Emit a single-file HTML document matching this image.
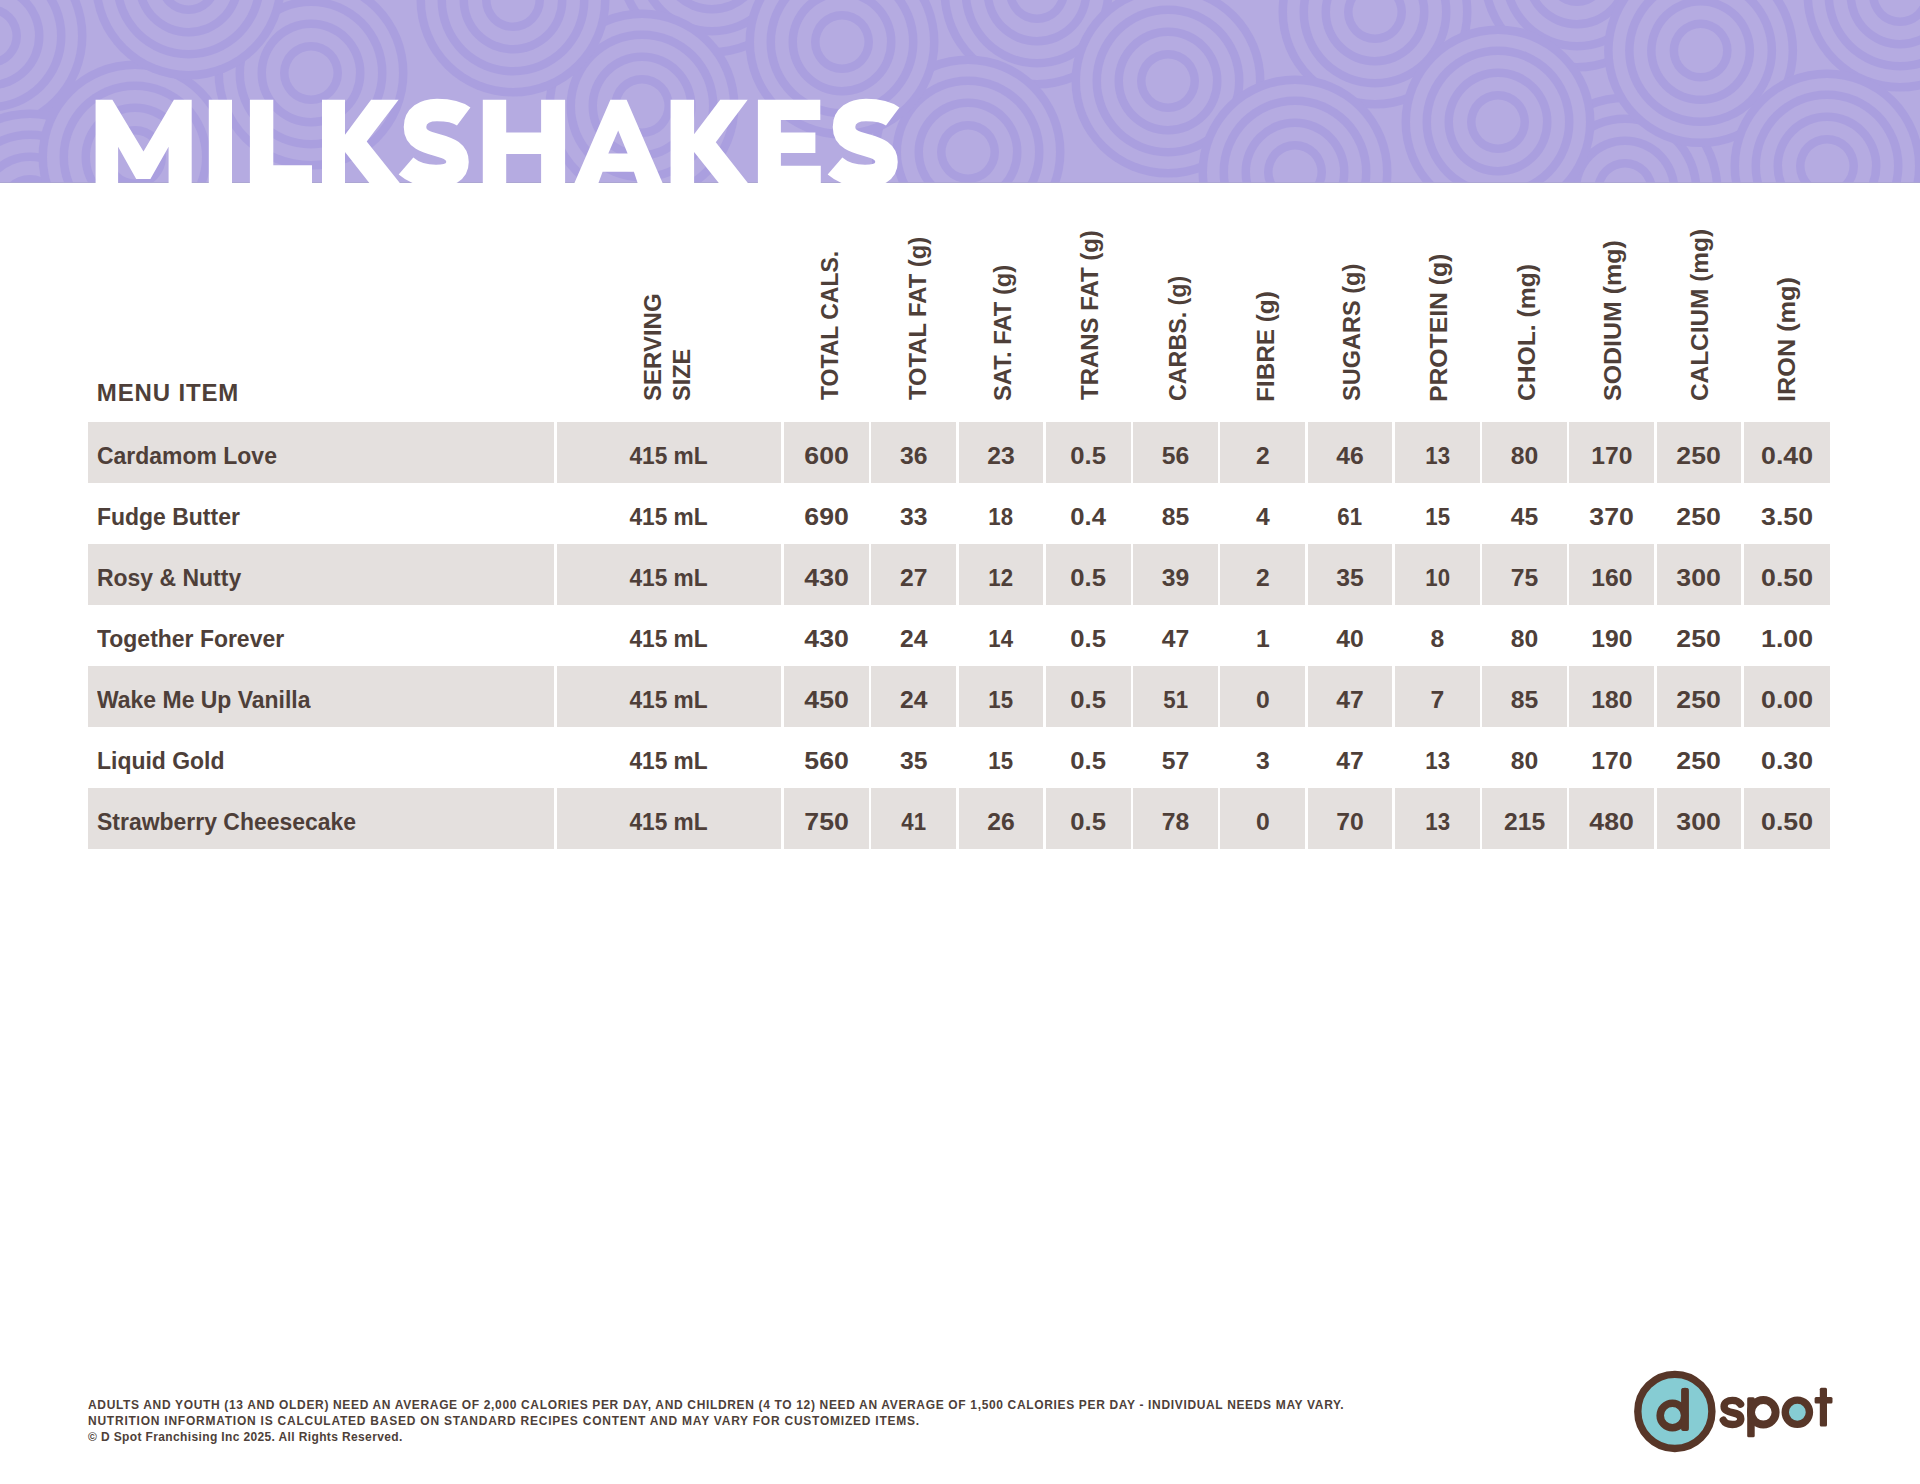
<!DOCTYPE html><html><head><meta charset="utf-8"><title>Milkshakes</title><style>
html,body{margin:0;padding:0;}
body{width:1920px;height:1484px;overflow:hidden;background:#fff;position:relative;font-family:"Liberation Sans",sans-serif;color:#4e3f39;}
.band{position:absolute;left:0;top:0;width:1920px;height:183px;background:#b5abe1;overflow:hidden;}
.band svg{position:absolute;left:0;top:0;}
.tl{position:absolute;top:85.5px;font-weight:bold;font-size:115px;line-height:115px;color:#fff;-webkit-text-stroke:7px #fff;white-space:nowrap;transform-origin:0 0;}
.c{position:absolute;height:61px;}
.g{background:#e4e0de;}
.t{position:absolute;font-weight:bold;font-size:24.7px;line-height:24.7px;white-space:nowrap;}
.n{transform:scaleX(0.93);transform-origin:0 0;}
.h{position:absolute;font-weight:bold;font-size:24px;line-height:24px;white-space:nowrap;transform-origin:0 0;}
.foot{position:absolute;left:88px;top:1397px;font-weight:bold;font-size:12px;line-height:16px;white-space:nowrap;}
</style></head><body>
<div class="band"><svg width="1920" height="183" viewBox="0 0 1920 183"><defs><g id="m"><circle r="96.5" fill="#aa9fdf"/><circle r="88.0" fill="#b5abe1"/><circle r="75.5" fill="#aa9fdf"/><circle r="67.0" fill="#b5abe1"/><circle r="53.5" fill="#aa9fdf"/><circle r="45.0" fill="#b5abe1"/><circle r="31.0" fill="#aa9fdf"/><circle r="22.5" fill="#b5abe1"/></g></defs><use href="#m" x="311" y="73"/><use href="#m" x="-10" y="36"/><use href="#m" x="30" y="206"/><use href="#m" x="135" y="157"/><use href="#m" x="188.5" y="-17"/><use href="#m" x="1037" y="-8"/><use href="#m" x="712" y="-40"/><use href="#m" x="642" y="106"/><use href="#m" x="513" y="0"/><use href="#m" x="968" y="152"/><use href="#m" x="842" y="42"/><use href="#m" x="1168" y="81"/><use href="#m" x="1375" y="12"/><use href="#m" x="1295" y="172"/><use href="#m" x="1577" y="-25"/><use href="#m" x="1625" y="190"/><use href="#m" x="1498" y="122"/><use href="#m" x="1900" y="-5"/><use href="#m" x="1700.6" y="50.6"/><use href="#m" x="1827" y="166"/></svg><div style="position:absolute;left:0;top:182px;width:1920px;height:1px;background:#aaa5d0;opacity:0.8"></div><svg style="position:absolute;left:0;top:0" width="1920" height="183"><polygon fill="#fff" points="95.6,187.0 95.6,99.8 112.4,99.8 143.5,151.4 173.9,99.8 191.7,99.8 191.7,187.0 168.6,187.0 168.6,146.8 150.4,178.9 136.2,178.9 118.1,146.8 118.1,187.0"/><polygon fill="#fff" points="208.8,187.0 208.8,99.8 232.0,99.8 232.0,187.0"/><polygon fill="#fff" points="249.9,187.0 249.9,99.8 273.3,99.8 273.3,165.3 312.0,165.3 312.0,187.0"/><polygon fill="#fff" points="322.0,187.0 322.0,99.8 345.0,99.8 345.0,134.7 371.1,99.8 398.6,99.8 366.7,141.4 403.0,187.0 372.5,187.0 345.0,152.0 345.0,187.0"/><polygon fill="#fff" points="482.8,187.0 482.8,99.8 506.2,99.8 506.2,132.6 541.1,132.6 541.1,99.8 565.1,99.8 565.1,187.0 541.1,187.0 541.1,154.0 506.2,154.0 506.2,187.0"/><polygon fill="#fff" points="670.6,187.0 670.6,99.8 694.1,99.8 694.1,134.3 720.2,99.8 747.7,99.8 715.8,142.3 751.0,187.0 722.0,187.0 694.1,152.0 694.1,187.0"/><polygon fill="#fff" points="757.9,187.0 757.9,99.8 820.3,99.8 820.3,120.1 780.9,120.1 780.9,132.5 815.4,132.5 815.4,152.9 780.9,152.9 780.9,165.7 820.8,165.7 820.8,187.0"/><path fill="#fff" fill-rule="evenodd" d="M610.4,99.8 L626.6,99.8 L664.3,187 L638.9,187 L633.9,171.7 L602.6,171.7 L597,187 L572.7,187 Z M618.2,130.5 L608.3,153.5 L627.6,153.5 Z"/><path d="M463.7,116.5 C457,111.5 448,110 437,110 C424,110 415,116 415,127 C415,139 426,142 437,145 C450,148.5 457.5,152 457.5,162 C457.5,172 449,176 436,176 C424,176 413,172 406,166" fill="none" stroke="#fff" stroke-width="22.5"/><path transform="translate(429,0)" d="M463.7,116.5 C457,111.5 448,110 437,110 C424,110 415,116 415,127 C415,139 426,142 437,145 C450,148.5 457.5,152 457.5,162 C457.5,172 449,176 436,176 C424,176 413,172 406,166" fill="none" stroke="#fff" stroke-width="22.5"/></svg></div>
<div class="t" style="left:96.8px;top:381.2px;font-size:24px;line-height:24px;letter-spacing:0.85px;">MENU ITEM</div>
<div class="h" style="left:641.0px;top:401.3px;transform:rotate(-90deg) scaleX(1.000);">SERVING</div>
<div class="h" style="left:669.9px;top:401.3px;transform:rotate(-90deg) scaleX(0.980);">SIZE</div>
<div class="h" style="left:817.8px;top:400.3px;transform:rotate(-90deg) scaleX(0.956);">TOTAL CALS.</div>
<div class="h" style="left:906.3px;top:400.3px;transform:rotate(-90deg) scaleX(0.989);">TOTAL FAT (g)</div>
<div class="h" style="left:991.3px;top:401.3px;transform:rotate(-90deg) scaleX(0.989);">SAT. FAT (g)</div>
<div class="h" style="left:1078.0px;top:400.3px;transform:rotate(-90deg) scaleX(0.998);">TRANS FAT (g)</div>
<div class="h" style="left:1166.0px;top:401.3px;transform:rotate(-90deg) scaleX(0.969);">CARBS. (g)</div>
<div class="h" style="left:1254.0px;top:402.3px;transform:rotate(-90deg) scaleX(1.014);">FIBRE (g)</div>
<div class="h" style="left:1340.0px;top:401.3px;transform:rotate(-90deg) scaleX(0.981);">SUGARS (g)</div>
<div class="h" style="left:1427.0px;top:402.4px;transform:rotate(-90deg) scaleX(1.030);">PROTEIN (g)</div>
<div class="h" style="left:1514.6px;top:401.3px;transform:rotate(-90deg) scaleX(1.027);">CHOL. (mg)</div>
<div class="h" style="left:1600.8px;top:401.3px;transform:rotate(-90deg) scaleX(1.039);">SODIUM (mg)</div>
<div class="h" style="left:1687.5px;top:401.3px;transform:rotate(-90deg) scaleX(1.016);">CALCIUM (mg)</div>
<div class="h" style="left:1774.6px;top:402.4px;transform:rotate(-90deg) scaleX(1.053);">IRON (mg)</div>
<div class="c g" style="left:88.00px;top:422px;width:466.00px;"></div>
<div class="c g" style="left:557.00px;top:422px;width:224.00px;"></div>
<div class="c g" style="left:784.00px;top:422px;width:84.80px;"></div>
<div class="c g" style="left:871.27px;top:422px;width:84.80px;"></div>
<div class="c g" style="left:958.54px;top:422px;width:84.80px;"></div>
<div class="c g" style="left:1045.81px;top:422px;width:84.80px;"></div>
<div class="c g" style="left:1133.08px;top:422px;width:84.80px;"></div>
<div class="c g" style="left:1220.35px;top:422px;width:84.80px;"></div>
<div class="c g" style="left:1307.62px;top:422px;width:84.80px;"></div>
<div class="c g" style="left:1394.89px;top:422px;width:84.80px;"></div>
<div class="c g" style="left:1482.16px;top:422px;width:84.80px;"></div>
<div class="c g" style="left:1569.43px;top:422px;width:84.80px;"></div>
<div class="c g" style="left:1656.70px;top:422px;width:84.80px;"></div>
<div class="c g" style="left:1743.97px;top:422px;width:86.03px;"></div>
<div class="t n" style="left:97.2px;top:444px;">Cardamom Love</div>
<div class="t" style="left:557.00px;top:444px;width:224.00px;text-align:center;"><span style="display:inline-block;transform:scaleX(0.920)">415 mL</span></div>
<div class="t" style="left:784.00px;top:444px;width:84.80px;text-align:center;"><span style="display:inline-block;transform:scaleX(1.080)">600</span></div>
<div class="t" style="left:871.27px;top:444px;width:84.80px;text-align:center;"><span style="display:inline-block;transform:scaleX(1.000)">36</span></div>
<div class="t" style="left:958.54px;top:444px;width:84.80px;text-align:center;"><span style="display:inline-block;transform:scaleX(1.000)">23</span></div>
<div class="t" style="left:1045.81px;top:444px;width:84.80px;text-align:center;"><span style="display:inline-block;transform:scaleX(1.040)">0.5</span></div>
<div class="t" style="left:1133.08px;top:444px;width:84.80px;text-align:center;"><span style="display:inline-block;transform:scaleX(1.000)">56</span></div>
<div class="t" style="left:1220.35px;top:444px;width:84.80px;text-align:center;"><span style="display:inline-block;transform:scaleX(1.000)">2</span></div>
<div class="t" style="left:1307.62px;top:444px;width:84.80px;text-align:center;"><span style="display:inline-block;transform:scaleX(1.000)">46</span></div>
<div class="t" style="left:1394.89px;top:444px;width:84.80px;text-align:center;"><span style="display:inline-block;transform:scaleX(0.900)">13</span></div>
<div class="t" style="left:1482.16px;top:444px;width:84.80px;text-align:center;"><span style="display:inline-block;transform:scaleX(1.000)">80</span></div>
<div class="t" style="left:1569.43px;top:444px;width:84.80px;text-align:center;"><span style="display:inline-block;transform:scaleX(1.000)">170</span></div>
<div class="t" style="left:1656.70px;top:444px;width:84.80px;text-align:center;"><span style="display:inline-block;transform:scaleX(1.080)">250</span></div>
<div class="t" style="left:1743.97px;top:444px;width:86.03px;text-align:center;"><span style="display:inline-block;transform:scaleX(1.080)">0.40</span></div>
<div class="t n" style="left:97.2px;top:505px;">Fudge Butter</div>
<div class="t" style="left:557.00px;top:505px;width:224.00px;text-align:center;"><span style="display:inline-block;transform:scaleX(0.920)">415 mL</span></div>
<div class="t" style="left:784.00px;top:505px;width:84.80px;text-align:center;"><span style="display:inline-block;transform:scaleX(1.080)">690</span></div>
<div class="t" style="left:871.27px;top:505px;width:84.80px;text-align:center;"><span style="display:inline-block;transform:scaleX(1.000)">33</span></div>
<div class="t" style="left:958.54px;top:505px;width:84.80px;text-align:center;"><span style="display:inline-block;transform:scaleX(0.900)">18</span></div>
<div class="t" style="left:1045.81px;top:505px;width:84.80px;text-align:center;"><span style="display:inline-block;transform:scaleX(1.040)">0.4</span></div>
<div class="t" style="left:1133.08px;top:505px;width:84.80px;text-align:center;"><span style="display:inline-block;transform:scaleX(1.000)">85</span></div>
<div class="t" style="left:1220.35px;top:505px;width:84.80px;text-align:center;"><span style="display:inline-block;transform:scaleX(1.000)">4</span></div>
<div class="t" style="left:1307.62px;top:505px;width:84.80px;text-align:center;"><span style="display:inline-block;transform:scaleX(0.900)">61</span></div>
<div class="t" style="left:1394.89px;top:505px;width:84.80px;text-align:center;"><span style="display:inline-block;transform:scaleX(0.900)">15</span></div>
<div class="t" style="left:1482.16px;top:505px;width:84.80px;text-align:center;"><span style="display:inline-block;transform:scaleX(1.000)">45</span></div>
<div class="t" style="left:1569.43px;top:505px;width:84.80px;text-align:center;"><span style="display:inline-block;transform:scaleX(1.080)">370</span></div>
<div class="t" style="left:1656.70px;top:505px;width:84.80px;text-align:center;"><span style="display:inline-block;transform:scaleX(1.080)">250</span></div>
<div class="t" style="left:1743.97px;top:505px;width:86.03px;text-align:center;"><span style="display:inline-block;transform:scaleX(1.080)">3.50</span></div>
<div class="c g" style="left:88.00px;top:544px;width:466.00px;"></div>
<div class="c g" style="left:557.00px;top:544px;width:224.00px;"></div>
<div class="c g" style="left:784.00px;top:544px;width:84.80px;"></div>
<div class="c g" style="left:871.27px;top:544px;width:84.80px;"></div>
<div class="c g" style="left:958.54px;top:544px;width:84.80px;"></div>
<div class="c g" style="left:1045.81px;top:544px;width:84.80px;"></div>
<div class="c g" style="left:1133.08px;top:544px;width:84.80px;"></div>
<div class="c g" style="left:1220.35px;top:544px;width:84.80px;"></div>
<div class="c g" style="left:1307.62px;top:544px;width:84.80px;"></div>
<div class="c g" style="left:1394.89px;top:544px;width:84.80px;"></div>
<div class="c g" style="left:1482.16px;top:544px;width:84.80px;"></div>
<div class="c g" style="left:1569.43px;top:544px;width:84.80px;"></div>
<div class="c g" style="left:1656.70px;top:544px;width:84.80px;"></div>
<div class="c g" style="left:1743.97px;top:544px;width:86.03px;"></div>
<div class="t n" style="left:97.2px;top:566px;">Rosy &amp; Nutty</div>
<div class="t" style="left:557.00px;top:566px;width:224.00px;text-align:center;"><span style="display:inline-block;transform:scaleX(0.920)">415 mL</span></div>
<div class="t" style="left:784.00px;top:566px;width:84.80px;text-align:center;"><span style="display:inline-block;transform:scaleX(1.080)">430</span></div>
<div class="t" style="left:871.27px;top:566px;width:84.80px;text-align:center;"><span style="display:inline-block;transform:scaleX(1.000)">27</span></div>
<div class="t" style="left:958.54px;top:566px;width:84.80px;text-align:center;"><span style="display:inline-block;transform:scaleX(0.900)">12</span></div>
<div class="t" style="left:1045.81px;top:566px;width:84.80px;text-align:center;"><span style="display:inline-block;transform:scaleX(1.040)">0.5</span></div>
<div class="t" style="left:1133.08px;top:566px;width:84.80px;text-align:center;"><span style="display:inline-block;transform:scaleX(1.000)">39</span></div>
<div class="t" style="left:1220.35px;top:566px;width:84.80px;text-align:center;"><span style="display:inline-block;transform:scaleX(1.000)">2</span></div>
<div class="t" style="left:1307.62px;top:566px;width:84.80px;text-align:center;"><span style="display:inline-block;transform:scaleX(1.000)">35</span></div>
<div class="t" style="left:1394.89px;top:566px;width:84.80px;text-align:center;"><span style="display:inline-block;transform:scaleX(0.900)">10</span></div>
<div class="t" style="left:1482.16px;top:566px;width:84.80px;text-align:center;"><span style="display:inline-block;transform:scaleX(1.000)">75</span></div>
<div class="t" style="left:1569.43px;top:566px;width:84.80px;text-align:center;"><span style="display:inline-block;transform:scaleX(1.000)">160</span></div>
<div class="t" style="left:1656.70px;top:566px;width:84.80px;text-align:center;"><span style="display:inline-block;transform:scaleX(1.080)">300</span></div>
<div class="t" style="left:1743.97px;top:566px;width:86.03px;text-align:center;"><span style="display:inline-block;transform:scaleX(1.080)">0.50</span></div>
<div class="t n" style="left:97.2px;top:627px;">Together Forever</div>
<div class="t" style="left:557.00px;top:627px;width:224.00px;text-align:center;"><span style="display:inline-block;transform:scaleX(0.920)">415 mL</span></div>
<div class="t" style="left:784.00px;top:627px;width:84.80px;text-align:center;"><span style="display:inline-block;transform:scaleX(1.080)">430</span></div>
<div class="t" style="left:871.27px;top:627px;width:84.80px;text-align:center;"><span style="display:inline-block;transform:scaleX(1.000)">24</span></div>
<div class="t" style="left:958.54px;top:627px;width:84.80px;text-align:center;"><span style="display:inline-block;transform:scaleX(0.900)">14</span></div>
<div class="t" style="left:1045.81px;top:627px;width:84.80px;text-align:center;"><span style="display:inline-block;transform:scaleX(1.040)">0.5</span></div>
<div class="t" style="left:1133.08px;top:627px;width:84.80px;text-align:center;"><span style="display:inline-block;transform:scaleX(1.000)">47</span></div>
<div class="t" style="left:1220.35px;top:627px;width:84.80px;text-align:center;"><span style="display:inline-block;transform:scaleX(1.000)">1</span></div>
<div class="t" style="left:1307.62px;top:627px;width:84.80px;text-align:center;"><span style="display:inline-block;transform:scaleX(1.000)">40</span></div>
<div class="t" style="left:1394.89px;top:627px;width:84.80px;text-align:center;"><span style="display:inline-block;transform:scaleX(1.000)">8</span></div>
<div class="t" style="left:1482.16px;top:627px;width:84.80px;text-align:center;"><span style="display:inline-block;transform:scaleX(1.000)">80</span></div>
<div class="t" style="left:1569.43px;top:627px;width:84.80px;text-align:center;"><span style="display:inline-block;transform:scaleX(1.000)">190</span></div>
<div class="t" style="left:1656.70px;top:627px;width:84.80px;text-align:center;"><span style="display:inline-block;transform:scaleX(1.080)">250</span></div>
<div class="t" style="left:1743.97px;top:627px;width:86.03px;text-align:center;"><span style="display:inline-block;transform:scaleX(1.080)">1.00</span></div>
<div class="c g" style="left:88.00px;top:666px;width:466.00px;"></div>
<div class="c g" style="left:557.00px;top:666px;width:224.00px;"></div>
<div class="c g" style="left:784.00px;top:666px;width:84.80px;"></div>
<div class="c g" style="left:871.27px;top:666px;width:84.80px;"></div>
<div class="c g" style="left:958.54px;top:666px;width:84.80px;"></div>
<div class="c g" style="left:1045.81px;top:666px;width:84.80px;"></div>
<div class="c g" style="left:1133.08px;top:666px;width:84.80px;"></div>
<div class="c g" style="left:1220.35px;top:666px;width:84.80px;"></div>
<div class="c g" style="left:1307.62px;top:666px;width:84.80px;"></div>
<div class="c g" style="left:1394.89px;top:666px;width:84.80px;"></div>
<div class="c g" style="left:1482.16px;top:666px;width:84.80px;"></div>
<div class="c g" style="left:1569.43px;top:666px;width:84.80px;"></div>
<div class="c g" style="left:1656.70px;top:666px;width:84.80px;"></div>
<div class="c g" style="left:1743.97px;top:666px;width:86.03px;"></div>
<div class="t n" style="left:97.2px;top:688px;">Wake Me Up Vanilla</div>
<div class="t" style="left:557.00px;top:688px;width:224.00px;text-align:center;"><span style="display:inline-block;transform:scaleX(0.920)">415 mL</span></div>
<div class="t" style="left:784.00px;top:688px;width:84.80px;text-align:center;"><span style="display:inline-block;transform:scaleX(1.080)">450</span></div>
<div class="t" style="left:871.27px;top:688px;width:84.80px;text-align:center;"><span style="display:inline-block;transform:scaleX(1.000)">24</span></div>
<div class="t" style="left:958.54px;top:688px;width:84.80px;text-align:center;"><span style="display:inline-block;transform:scaleX(0.900)">15</span></div>
<div class="t" style="left:1045.81px;top:688px;width:84.80px;text-align:center;"><span style="display:inline-block;transform:scaleX(1.040)">0.5</span></div>
<div class="t" style="left:1133.08px;top:688px;width:84.80px;text-align:center;"><span style="display:inline-block;transform:scaleX(0.900)">51</span></div>
<div class="t" style="left:1220.35px;top:688px;width:84.80px;text-align:center;"><span style="display:inline-block;transform:scaleX(1.000)">0</span></div>
<div class="t" style="left:1307.62px;top:688px;width:84.80px;text-align:center;"><span style="display:inline-block;transform:scaleX(1.000)">47</span></div>
<div class="t" style="left:1394.89px;top:688px;width:84.80px;text-align:center;"><span style="display:inline-block;transform:scaleX(1.000)">7</span></div>
<div class="t" style="left:1482.16px;top:688px;width:84.80px;text-align:center;"><span style="display:inline-block;transform:scaleX(1.000)">85</span></div>
<div class="t" style="left:1569.43px;top:688px;width:84.80px;text-align:center;"><span style="display:inline-block;transform:scaleX(1.000)">180</span></div>
<div class="t" style="left:1656.70px;top:688px;width:84.80px;text-align:center;"><span style="display:inline-block;transform:scaleX(1.080)">250</span></div>
<div class="t" style="left:1743.97px;top:688px;width:86.03px;text-align:center;"><span style="display:inline-block;transform:scaleX(1.080)">0.00</span></div>
<div class="t n" style="left:97.2px;top:749px;">Liquid Gold</div>
<div class="t" style="left:557.00px;top:749px;width:224.00px;text-align:center;"><span style="display:inline-block;transform:scaleX(0.920)">415 mL</span></div>
<div class="t" style="left:784.00px;top:749px;width:84.80px;text-align:center;"><span style="display:inline-block;transform:scaleX(1.080)">560</span></div>
<div class="t" style="left:871.27px;top:749px;width:84.80px;text-align:center;"><span style="display:inline-block;transform:scaleX(1.000)">35</span></div>
<div class="t" style="left:958.54px;top:749px;width:84.80px;text-align:center;"><span style="display:inline-block;transform:scaleX(0.900)">15</span></div>
<div class="t" style="left:1045.81px;top:749px;width:84.80px;text-align:center;"><span style="display:inline-block;transform:scaleX(1.040)">0.5</span></div>
<div class="t" style="left:1133.08px;top:749px;width:84.80px;text-align:center;"><span style="display:inline-block;transform:scaleX(1.000)">57</span></div>
<div class="t" style="left:1220.35px;top:749px;width:84.80px;text-align:center;"><span style="display:inline-block;transform:scaleX(1.000)">3</span></div>
<div class="t" style="left:1307.62px;top:749px;width:84.80px;text-align:center;"><span style="display:inline-block;transform:scaleX(1.000)">47</span></div>
<div class="t" style="left:1394.89px;top:749px;width:84.80px;text-align:center;"><span style="display:inline-block;transform:scaleX(0.900)">13</span></div>
<div class="t" style="left:1482.16px;top:749px;width:84.80px;text-align:center;"><span style="display:inline-block;transform:scaleX(1.000)">80</span></div>
<div class="t" style="left:1569.43px;top:749px;width:84.80px;text-align:center;"><span style="display:inline-block;transform:scaleX(1.000)">170</span></div>
<div class="t" style="left:1656.70px;top:749px;width:84.80px;text-align:center;"><span style="display:inline-block;transform:scaleX(1.080)">250</span></div>
<div class="t" style="left:1743.97px;top:749px;width:86.03px;text-align:center;"><span style="display:inline-block;transform:scaleX(1.080)">0.30</span></div>
<div class="c g" style="left:88.00px;top:788px;width:466.00px;"></div>
<div class="c g" style="left:557.00px;top:788px;width:224.00px;"></div>
<div class="c g" style="left:784.00px;top:788px;width:84.80px;"></div>
<div class="c g" style="left:871.27px;top:788px;width:84.80px;"></div>
<div class="c g" style="left:958.54px;top:788px;width:84.80px;"></div>
<div class="c g" style="left:1045.81px;top:788px;width:84.80px;"></div>
<div class="c g" style="left:1133.08px;top:788px;width:84.80px;"></div>
<div class="c g" style="left:1220.35px;top:788px;width:84.80px;"></div>
<div class="c g" style="left:1307.62px;top:788px;width:84.80px;"></div>
<div class="c g" style="left:1394.89px;top:788px;width:84.80px;"></div>
<div class="c g" style="left:1482.16px;top:788px;width:84.80px;"></div>
<div class="c g" style="left:1569.43px;top:788px;width:84.80px;"></div>
<div class="c g" style="left:1656.70px;top:788px;width:84.80px;"></div>
<div class="c g" style="left:1743.97px;top:788px;width:86.03px;"></div>
<div class="t n" style="left:97.2px;top:810px;">Strawberry Cheesecake</div>
<div class="t" style="left:557.00px;top:810px;width:224.00px;text-align:center;"><span style="display:inline-block;transform:scaleX(0.920)">415 mL</span></div>
<div class="t" style="left:784.00px;top:810px;width:84.80px;text-align:center;"><span style="display:inline-block;transform:scaleX(1.080)">750</span></div>
<div class="t" style="left:871.27px;top:810px;width:84.80px;text-align:center;"><span style="display:inline-block;transform:scaleX(0.900)">41</span></div>
<div class="t" style="left:958.54px;top:810px;width:84.80px;text-align:center;"><span style="display:inline-block;transform:scaleX(1.000)">26</span></div>
<div class="t" style="left:1045.81px;top:810px;width:84.80px;text-align:center;"><span style="display:inline-block;transform:scaleX(1.040)">0.5</span></div>
<div class="t" style="left:1133.08px;top:810px;width:84.80px;text-align:center;"><span style="display:inline-block;transform:scaleX(1.000)">78</span></div>
<div class="t" style="left:1220.35px;top:810px;width:84.80px;text-align:center;"><span style="display:inline-block;transform:scaleX(1.000)">0</span></div>
<div class="t" style="left:1307.62px;top:810px;width:84.80px;text-align:center;"><span style="display:inline-block;transform:scaleX(1.000)">70</span></div>
<div class="t" style="left:1394.89px;top:810px;width:84.80px;text-align:center;"><span style="display:inline-block;transform:scaleX(0.900)">13</span></div>
<div class="t" style="left:1482.16px;top:810px;width:84.80px;text-align:center;"><span style="display:inline-block;transform:scaleX(1.000)">215</span></div>
<div class="t" style="left:1569.43px;top:810px;width:84.80px;text-align:center;"><span style="display:inline-block;transform:scaleX(1.080)">480</span></div>
<div class="t" style="left:1656.70px;top:810px;width:84.80px;text-align:center;"><span style="display:inline-block;transform:scaleX(1.080)">300</span></div>
<div class="t" style="left:1743.97px;top:810px;width:86.03px;text-align:center;"><span style="display:inline-block;transform:scaleX(1.080)">0.50</span></div>
<div class="foot"><span style="letter-spacing:0.657px">ADULTS AND YOUTH (13 AND OLDER) NEED AN AVERAGE OF 2,000 CALORIES PER DAY, AND CHILDREN (4 TO 12) NEED AN AVERAGE OF 1,500 CALORIES PER DAY - INDIVIDUAL NEEDS MAY VARY.</span><br><span style="letter-spacing:0.764px">NUTRITION INFORMATION IS CALCULATED BASED ON STANDARD RECIPES CONTENT AND MAY VARY FOR CUSTOMIZED ITEMS.</span><br><span style="letter-spacing:0.37px">&copy; D Spot Franchising Inc 2025. All Rights Reserved.</span></div>
<svg style="position:absolute;left:0;top:0;" width="1920" height="1484" viewBox="0 0 1920 1484">
<circle cx="1674.85" cy="1411.4" r="37.05" fill="#86ccd3" stroke="#573628" stroke-width="7.4"/>
<circle cx="1672.4" cy="1415.5" r="12.2" fill="none" stroke="#573628" stroke-width="7.6"/>
<path d="M1685,1391.4 L1685,1427.4" stroke="#573628" stroke-width="7.4" stroke-linecap="round" fill="none"/>
<rect x="1681.3" y="1388" width="7.4" height="42.7" rx="1.5" fill="#573628"/>
<path d="M1740.6,1404.2 C1739,1401.6 1735.6,1400.4 1732.4,1400.4 C1727.8,1400.4 1724.1,1402.6 1724.1,1406.4 C1724.1,1410.6 1728.4,1411.6 1732.5,1412.6 C1737,1413.6 1740.8,1414.6 1740.8,1418.9 C1740.8,1422.6 1736.8,1424.5 1732.4,1424.5 C1728.4,1424.5 1724.7,1423 1723.3,1420.2" stroke="#573628" stroke-width="7.4" stroke-linecap="round" fill="none"/>
<rect x="1747.2" y="1397.3" width="7.5" height="40" rx="1.5" fill="#573628"/>
<circle cx="1763.3" cy="1412.3" r="12.3" fill="none" stroke="#573628" stroke-width="8"/>
<circle cx="1797.35" cy="1412.25" r="12.1" fill="#86ccd3" stroke="#573628" stroke-width="7.4"/>
<rect x="1819.8" y="1387.8" width="7.2" height="38.7" rx="1.5" fill="#573628"/>
<rect x="1814.6" y="1396.9" width="17.9" height="6.5" rx="1.5" fill="#573628"/>
</svg>
</body></html>
